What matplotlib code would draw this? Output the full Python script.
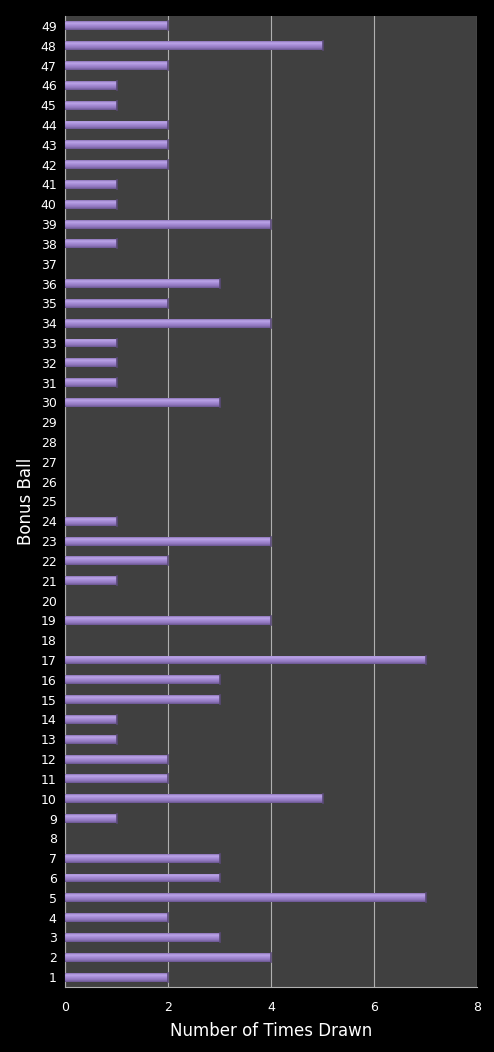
import matplotlib
matplotlib.use("Agg")
import matplotlib.pyplot as plt
import numpy as np
from matplotlib.colors import LinearSegmentedColormap

balls = list(range(1, 50))
counts = [2, 4, 3, 2, 7, 3, 3, 0, 1, 5,
          2, 2, 1, 1, 3, 3, 7, 0, 4, 0,
          1, 2, 4, 1, 0, 0, 0, 0, 0, 3,
          1, 1, 1, 4, 2, 3, 0, 1, 4, 1,
          1, 2, 2, 2, 1, 1, 2, 5, 2]
xticks = [0, 2, 4, 6, 8]

fig = plt.figure(figsize=(4.94, 10.52), dpi=100)
fig.patch.set_facecolor("black")
ax = fig.add_axes([65/494, 1 - 987/1052, (477-65)/494, (987-16)/1052])
ax.set_facecolor("#404040")

bar_h = 0.45
bars = ax.barh(balls, counts, height=bar_h, color="#9a80c8", edgecolor="none", zorder=3)

cmap = LinearSegmentedColormap.from_list("g", [
    (0.0, "#6a5690"), (0.25, "#8f76bd"), (0.55, "#a88ed8"), (0.8, "#bda6ea"), (1.0, "#8a72b6")])
grad = np.linspace(0, 1, 64).reshape(-1, 1)
for b, c in zip(bars, counts):
    if c <= 0:
        continue
    x0, y0 = b.get_x(), b.get_y()
    w, h = b.get_width(), b.get_height()
    im = ax.imshow(grad, cmap=cmap, aspect="auto", origin="lower",
                   extent=[x0, x0 + w, y0, y0 + h], zorder=4, interpolation="bilinear")
    im.set_clip_path(b)
    ax.plot([x0 + w, x0 + w], [y0, y0 + h], color="#5a4a78", lw=1.2, zorder=5)

ax.set_xlim(0, 8)
ax.set_ylim(0.5, 49.5)
ax.set_xticks(xticks)
ax.set_yticks(balls)
ax.set_yticklabels([str(b) for b in balls])
ax.xaxis.grid(True, color="#b0b0b0", lw=0.8, zorder=1)
ax.set_axisbelow(True)
ax.tick_params(axis="both", colors="white", labelsize=9, length=0, pad=6)
ax.tick_params(axis="x", pad=10)
for s in ["top", "right"]:
    ax.spines[s].set_visible(False)
ax.spines["bottom"].set_color("#b0b0b0")
ax.spines["left"].set_color("#b0b0b0")
ax.spines["bottom"].set_linewidth(0.8)
ax.spines["left"].set_linewidth(0.8)

ax.set_xlabel("Number of Times Drawn", color="white", fontsize=12, labelpad=6)
ax.set_ylabel("Bonus Ball", color="white", fontsize=12, labelpad=4)

fig.savefig("out.png", dpi=100, facecolor="black")
